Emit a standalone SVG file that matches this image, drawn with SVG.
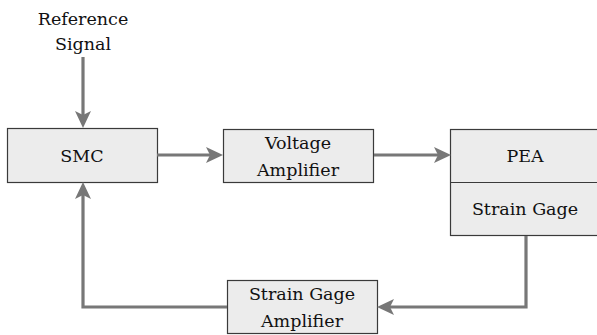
<svg xmlns="http://www.w3.org/2000/svg" width="597" height="335" viewBox="0 0 597 335">
<defs>
<style>
.box{fill:#ececec;stroke:#3a3a3a;stroke-width:1.2}
.t{font-family:'DejaVu Serif','Liberation Serif',serif;font-size:17.5px;fill:#111;text-anchor:middle}
.c{fill:none;stroke:#777;stroke-width:3.2}
</style>
<marker id="ah" markerUnits="userSpaceOnUse" markerWidth="18" markerHeight="18" viewBox="0 0 18 18" refX="4" refY="8" orient="auto">
<path d="M0,0 L17,8 L0,16 L4,8 z" fill="#777"/>
</marker>
</defs>
<rect width="597" height="335" fill="#fff"/>
<g id="reference-signal">
<text class="t" x="83" y="25">Reference</text>
<text class="t" x="83" y="50">Signal</text>
</g>
<g id="smc">
<rect class="box" x="7.5" y="128.5" width="150" height="54"/>
<text class="t" x="82" y="162">SMC</text>
</g>
<g id="voltage-amplifier">
<rect class="box" x="223.5" y="129.5" width="150" height="53"/>
<text class="t" x="298" y="149">Voltage</text>
<text class="t" x="298" y="175.5">Amplifier</text>
</g>
<g id="pea">
<rect class="box" x="450.5" y="129.5" width="150" height="106"/>
<line x1="450.5" y1="182.5" x2="600" y2="182.5" stroke="#3a3a3a" stroke-width="1.2"/>
<text class="t" x="525" y="162">PEA</text>
<text class="t" x="525" y="215">Strain Gage</text>
</g>
<g id="strain-gage-amplifier">
<rect class="box" x="227.5" y="280.5" width="150" height="53"/>
<text class="t" x="302" y="300">Strain Gage</text>
<text class="t" x="302" y="326.5">Amplifier</text>
</g>
<g id="connectors">
<path class="c" d="M83,57 V115" marker-end="url(#ah)"/>
<path class="c" d="M157,155 H210" marker-end="url(#ah)"/>
<path class="c" d="M374,155 H438" marker-end="url(#ah)"/>
<path class="c" d="M526,236 V307 H390" marker-end="url(#ah)"/>
<path class="c" d="M227,307 H83 V195" marker-end="url(#ah)"/>
</g>
</svg>
